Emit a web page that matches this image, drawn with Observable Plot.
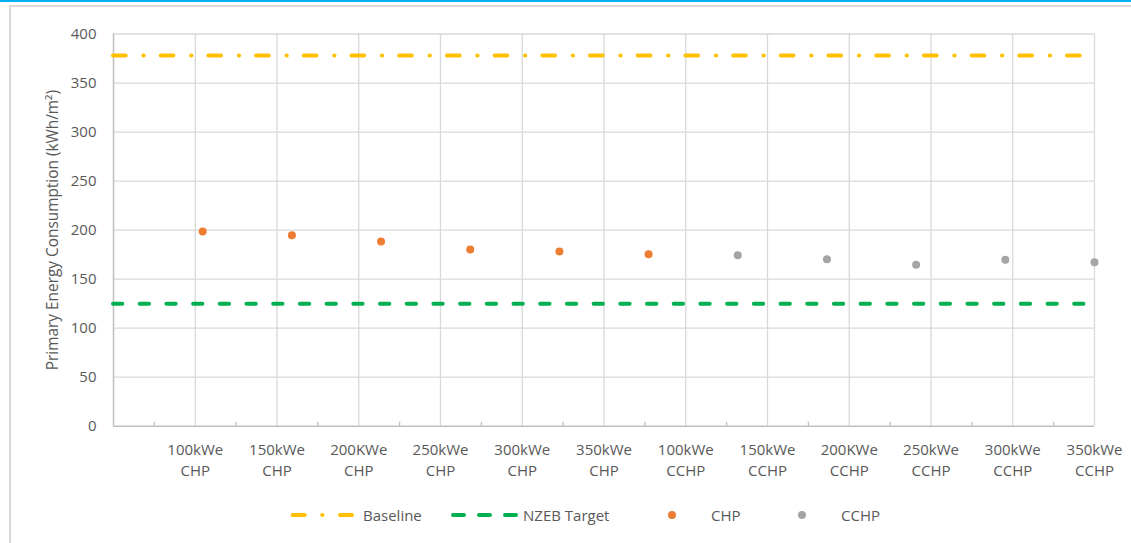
<!DOCTYPE html>
<html>
<head>
<meta charset="utf-8">
<script src="https://cdn.jsdelivr.net/npm/d3@7"></script>
<script src="https://cdn.jsdelivr.net/npm/@observablehq/plot@0.6"></script>
<style>
  html, body { margin: 0; padding: 0; background: #fff; }
  #wrap { position: relative; width: 1131px; height: 543px; overflow: hidden; background: #fff; font-family: "Open Sans", sans-serif; color: #595959; }
  #topbar { position: absolute; left: 0; top: 0; width: 1131px; height: 2px; background: #00b0f0; }
  #frame { position: absolute; left: 9px; top: 5px; width: 1200px; height: 600px; border: 2px solid #d9d9d9; box-sizing: border-box; }
  #chart { position: absolute; left: 0; top: 0; }
  #legend { position: absolute; left: 0; top: 503px; width: 1131px; height: 24px; font-size: 15px; }
  .item { position: absolute; top: 0; height: 24px; line-height: 24px; white-space: nowrap; }
  .item svg { position: absolute; top: 0; }
</style>
</head>
<body>
<div id="wrap">
  <div id="topbar"></div>
  <div id="frame"></div>
  <div id="chart"></div>
  <div id="legend"></div>
</div>
<script>
// ---- Data ----
const categories = [
  "100kWe\nCHP", "150kWe\nCHP", "200KWe\nCHP", "250kWe\nCHP", "300kWe\nCHP", "350kWe\nCHP",
  "100kWe\nCCHP", "150kWe\nCCHP", "200KWe\nCCHP", "250kWe\nCCHP", "300kWe\nCCHP", "350kWe\nCCHP"
];
const chpValues = [198.6, 194.8, 188.4, 180.2, 178.2, 175.3];
const cchpValues = [174.4, 170.3, 164.6, 169.7, 167.3];
const baselineValue = 378;
const nzebValue = 125;
const yTicks = [0, 50, 100, 150, 200, 250, 300, 350, 400];
const seriesNames = ["Baseline", "NZEB Target", "CHP", "CCHP"];
const seriesColors = ["#ffc000", "#00b050", "#ed7d31", "#a5a5a5"];
const yLabel = "Primary Energy Consumption (kWh/m²)";

// ---- Build tables ----
const nCat = categories.length;
const catPos = categories.map((_, i) => i + 1);
const minorTicks = categories.map((_, i) => i + 0.5);
const scatter = [
  ...chpValues.map(v => ({series: "CHP", v})),
  ...cchpValues.map(v => ({series: "CCHP", v}))
].map((d, i) => ({...d, idx: i + 1}));
const nScatter = scatter.length; // scatter drawn on its own 0..n axis spanning same width
const colorOf = Object.fromEntries(seriesNames.map((n, i) => [n, seriesColors[i]]));

const W = 1131, H = 495;
const baselineDash = "12.7,17.7,0.3,17";
const nzebDash = "9.3,17.4";

const chart = Plot.plot({
  width: W,
  height: H,
  marginLeft: 113,
  marginRight: 37,
  marginTop: 33.5,
  marginBottom: H - 425.7,
  style: {fontFamily: "'Open Sans', sans-serif", fontSize: "15px", color: "#595959", background: "transparent", overflow: "visible"},
  x: {type: "linear", domain: [0, nCat]},
  y: {domain: [0, 400]},
  marks: [
    Plot.gridY(yTicks.filter(t => t > 0), {stroke: "#d9d9d9", strokeOpacity: 1, strokeWidth: 1.3}),
    Plot.gridX(catPos, {stroke: "#d9d9d9", strokeOpacity: 1, strokeWidth: 1.3}),
    Plot.ruleX([0], {stroke: "#bfbfbf", strokeWidth: 1.5}),
    Plot.ruleY([0], {stroke: "#bfbfbf", strokeWidth: 1.5}),
    Plot.ruleX(minorTicks, {x: d => d, y1: 0, y2: 4, stroke: "#bfbfbf", strokeWidth: 1.3}),
    Plot.ruleY([baselineValue], {stroke: colorOf["Baseline"], strokeWidth: 4, strokeDasharray: baselineDash, strokeLinecap: "round"}),
    Plot.ruleY([nzebValue], {stroke: colorOf["NZEB Target"], strokeWidth: 4, strokeDasharray: nzebDash, strokeLinecap: "round"}),
    Plot.dot(scatter, {x: d => d.idx * nCat / nScatter, y: "v", r: 4, fill: d => colorOf[d.series], stroke: "none"}),
    Plot.axisY(yTicks, {tickSize: 0, tickPadding: 17, label: null, fill: "#595959", fontSize: 15}),
    Plot.axisX(catPos, {tickSize: 0, tickPadding: 14, label: null, tickFormat: i => categories[i - 1], lineHeight: 1.4, fill: "#595959", fontSize: 15}),
    Plot.text([yLabel], {frameAnchor: "left", dx: -60, rotate: -90, textAnchor: "middle", text: d => d, fill: "#595959", fontSize: 15.4})
  ]
});
document.getElementById("chart").appendChild(chart);

// ---- Legend ----
const legend = document.getElementById("legend");
const legendLayout = [
  {sym: 288, symW: 70, text: 363, kind: "baseline"},
  {sym: 449, symW: 70, text: 523, kind: "nzeb"},
  {sym: 664, symW: 16, text: 711, kind: "dot"},
  {sym: 794, symW: 16, text: 841, kind: "dot"}
];
seriesNames.forEach((name, i) => {
  const L = legendLayout[i];
  const color = seriesColors[i];
  const sym = document.createElementNS("http://www.w3.org/2000/svg", "svg");
  sym.setAttribute("width", L.symW);
  sym.setAttribute("height", 24);
  sym.style.left = L.sym + "px";
  let inner;
  if (L.kind === "baseline") {
    inner = `<line x1="4.7" x2="67" y1="12" y2="12" stroke="${color}" stroke-width="4" stroke-linecap="round" stroke-dasharray="12,17.5,0.3,17.5"/>`;
  } else if (L.kind === "nzeb") {
    inner = `<line x1="4" x2="68" y1="12" y2="12" stroke="${color}" stroke-width="4" stroke-linecap="round" stroke-dasharray="11,15"/>`;
  } else {
    inner = `<circle cx="8" cy="12" r="4" fill="${color}"/>`;
  }
  sym.innerHTML = inner;
  const symDiv = document.createElement("div");
  symDiv.className = "item";
  symDiv.style.left = "0px";
  symDiv.appendChild(sym);
  legend.appendChild(symDiv);
  const t = document.createElement("div");
  t.className = "item";
  t.style.left = L.text + "px";
  t.textContent = name;
  legend.appendChild(t);
});
</script>
</body>
</html>
